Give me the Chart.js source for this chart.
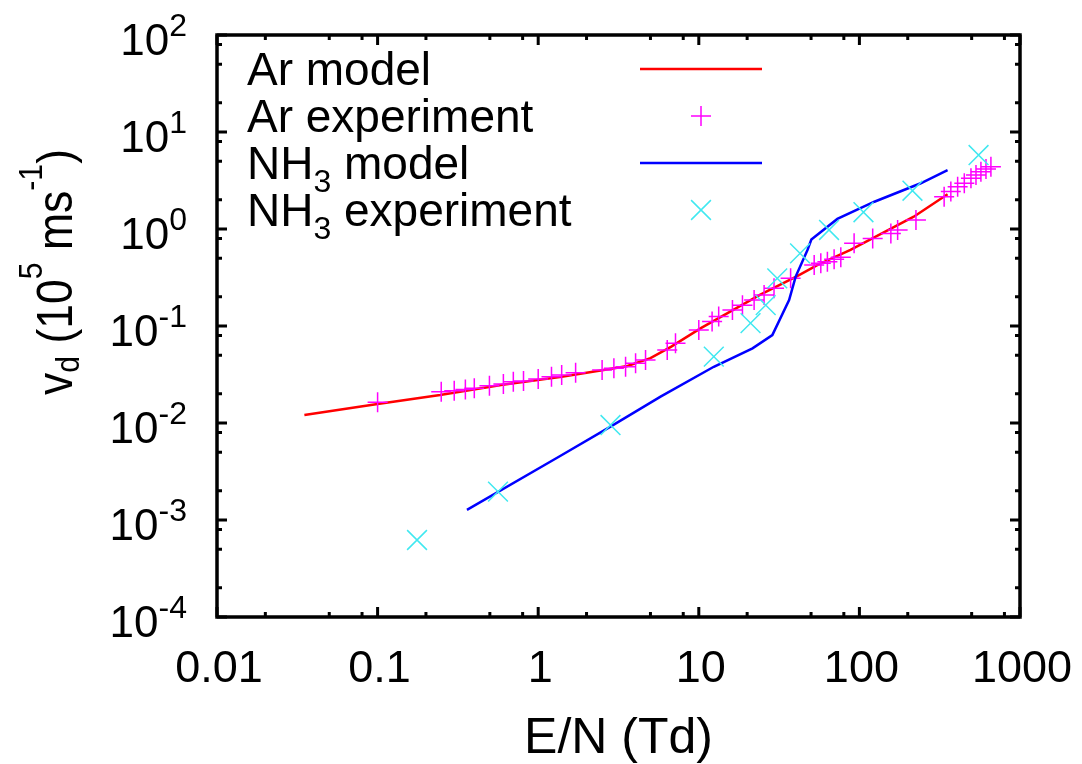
<!DOCTYPE html>
<html>
<head>
<meta charset="utf-8">
<script src="https://cdn.jsdelivr.net/npm/chart.js@4.4.1/dist/chart.umd.min.js"></script>
<style>
  html, body { margin: 0; padding: 0; background: #fff; }
  #wrap { width: 1082px; height: 764px; }
</style>
</head>
<body>
<div id="wrap"><canvas id="chart" width="1082" height="764"></canvas></div>
<script>
// Ar model curve (E/N in Td, v_d in 10^5 m/s)
const arModelEN = [0.035, 0.1, 0.245, 0.6, 1.4, 2.5, 3.6, 5.0, 6.7, 10.3, 15, 24, 41, 55, 88, 218, 354];
const arModelVd = [0.0121, 0.0157, 0.0194, 0.0248, 0.030, 0.035, 0.0387, 0.0467, 0.061, 0.095, 0.135, 0.209, 0.327, 0.426, 0.61, 1.34, 2.28];

// Ar experiment points
const arExpEN = [0.1, 0.249, 0.30, 0.352, 0.40, 0.497, 0.607, 0.70, 0.81, 1.0, 1.21, 1.40, 1.71, 2.50, 2.96, 3.50, 4.04, 4.66,
  6.36, 7.16, 10.0, 12.1, 13.3, 16.2, 18.7, 22.1, 25.5, 29.4, 37.3, 52.3, 57.5, 63.2, 69.6, 76.6, 92.7, 121, 157, 173, 225,
  337, 371, 409, 450, 495, 532, 571, 614, 659];
const arExpVd = [0.0164, 0.0210, 0.0215, 0.0222, 0.0228, 0.0242, 0.0252, 0.0267, 0.0271, 0.0284, 0.030, 0.0313, 0.033, 0.0352,
  0.0366, 0.0381, 0.0412, 0.0446, 0.0566, 0.0663, 0.091, 0.111, 0.125, 0.146, 0.164, 0.185, 0.209, 0.245, 0.31, 0.425, 0.443,
  0.46, 0.487, 0.51, 0.711, 0.80, 0.90, 0.977, 1.24, 2.15, 2.43, 2.73, 2.96, 3.33, 3.61, 3.90, 4.16, 4.39];

// NH3 model curve
const nh3ModelEN = [0.36, 1.37, 2.82, 5.78, 12.4, 21.6, 28.7, 36.5, 40.1, 47.5, 50.2, 72.9, 124, 241, 354];
const nh3ModelVd = [0.00127, 0.00457, 0.00916, 0.0187, 0.038, 0.0589, 0.0807, 0.185, 0.323, 0.608, 0.78, 1.27, 1.91, 2.96, 4.05];

// NH3 experiment points
const nh3ExpEN = [0.176, 0.562, 2.82, 12.4, 21.0, 26.1, 30.8, 42.7, 64.7, 106, 214, 552];
const nh3ExpVd = [0.000622, 0.00196, 0.00953, 0.0483, 0.107, 0.164, 0.31, 0.561, 0.977, 1.49, 2.48, 5.79];

// Axis ticks
const xTickValues = [0.01, 0.1, 1, 10, 100, 1000];
const xTickLabels = ['0.01', '0.1', '1', '10', '100', '1000'];
const yTickExponents = [2, 1, 0, -1, -2, -3, -4];
const minorMantissas = [2, 5, 8];

const FONT = '"Liberation Sans", Arial, sans-serif';

function toPoints(xs, ys) {
    return xs.map((v, i) => ({ x: v, y: ys[i] }));
}

// Draw a run of text pieces (main / super / sub) left to right
function drawRich(ctx, parts, x, y) {
    let cx = x;
    parts.forEach(p => {
        ctx.font = p.size + 'px ' + FONT;
        ctx.fillText(p.t, cx, y + (p.dy || 0));
        cx += ctx.measureText(p.t).width;
    });
    return cx - x;
}

function richWidth(ctx, parts) {
    let w = 0;
    parts.forEach(p => {
        ctx.font = p.size + 'px ' + FONT;
        w += ctx.measureText(p.t).width;
    });
    return w;
}

// Frame, inward ticks, labels, titles and key, drawn gnuplot style
const gnuplotDecor = {
    id: 'gnuplotDecor',
    afterDraw(chart) {
        const { ctx, chartArea: a, scales } = chart;
        const xs = scales.x, ys = scales.y;
        ctx.save();
        ctx.strokeStyle = '#000';
        ctx.fillStyle = '#000';
        ctx.lineCap = 'butt';

        // ticks
        ctx.lineWidth = 3;
        const tick = (px, len, vertical) => {
            ctx.beginPath();
            if (vertical) {
                ctx.moveTo(px, a.bottom); ctx.lineTo(px, a.bottom - len);
                ctx.moveTo(px, a.top); ctx.lineTo(px, a.top + len);
            } else {
                ctx.moveTo(a.left, px); ctx.lineTo(a.left + len, px);
                ctx.moveTo(a.right, px); ctx.lineTo(a.right - len, px);
            }
            ctx.stroke();
        };
        xTickValues.forEach((v, i) => {
            tick(xs.getPixelForValue(v), 10, true);
            if (i < xTickValues.length - 1) {
                minorMantissas.forEach(m => tick(xs.getPixelForValue(v * m), 5, true));
            }
        });
        yTickExponents.forEach((e, i) => {
            tick(ys.getPixelForValue(Math.pow(10, e)), 10, false);
            if (i > 0) {
                minorMantissas.forEach(m => tick(ys.getPixelForValue(Math.pow(10, e) * m), 5, false));
            }
        });

        // border
        ctx.lineWidth = 3.5;
        ctx.strokeRect(a.left, a.top, a.right - a.left, a.bottom - a.top);

        // x tick labels
        ctx.textBaseline = 'alphabetic';
        ctx.textAlign = 'center';
        ctx.font = '45px ' + FONT;
        xTickValues.forEach((v, i) => {
            ctx.fillText(xTickLabels[i], xs.getPixelForValue(v) + 2, a.bottom + 65);
        });

        // y tick labels 10^n
        ctx.textAlign = 'left';
        yTickExponents.forEach(e => {
            const parts = [{ t: '10', size: 44 }, { t: String(e), size: 32, dy: -19 }];
            const w = richWidth(ctx, parts);
            drawRich(ctx, parts, a.left - 30 - w, ys.getPixelForValue(Math.pow(10, e)) + 20);
        });

        // x title
        ctx.textAlign = 'center';
        ctx.font = '50px ' + FONT;
        ctx.fillText('E/N (Td)', (a.left + a.right) / 2, 753);

        // y title, rotated and slightly condensed
        ctx.save();
        ctx.translate(72, 395);
        ctx.rotate(-Math.PI / 2);
        ctx.scale(0.89, 1);
        ctx.textAlign = 'left';
        drawRich(ctx, [
            { t: 'v', size: 50 }, { t: 'd', size: 34, dy: 7 }, { t: ' (10', size: 50 },
            { t: '5', size: 34, dy: -30 }, { t: ' ms', size: 50 }, { t: '-1', size: 34, dy: -30 },
            { t: ')', size: 50 }
        ], 0, 0);
        ctx.restore();

        // key
        const rows = [69, 116, 163, 210];
        const ds = chart.data.datasets;
        const names = [
            [{ t: 'Ar model', size: 46 }],
            [{ t: 'Ar experiment', size: 46 }],
            [{ t: 'NH', size: 46 }, { t: '3', size: 32, dy: 13 }, { t: ' model', size: 46 }],
            [{ t: 'NH', size: 46 }, { t: '3', size: 32, dy: 13 }, { t: ' experiment', size: 46 }]
        ];
        ctx.textAlign = 'left';
        rows.forEach((ry, i) => {
            ctx.fillStyle = '#000';
            drawRich(ctx, names[i], 247, ry + 16);
            const d = ds[i];
            if (d.showLine) {
                ctx.strokeStyle = d.borderColor;
                ctx.lineWidth = d.borderWidth;
                ctx.beginPath(); ctx.moveTo(640, ry); ctx.lineTo(762, ry); ctx.stroke();
            } else {
                ctx.strokeStyle = d.pointBorderColor;
                ctx.fillStyle = d.pointBackgroundColor;
                ctx.lineWidth = d.pointBorderWidth;
                Chart.helpers.drawPoint(ctx, {
                    pointStyle: d.pointStyle, radius: d.pointRadius, borderWidth: d.pointBorderWidth, rotation: 0
                }, 701, ry);
            }
        });
        ctx.restore();
    }
};

const ctx = document.getElementById('chart').getContext('2d');
const chart = new Chart(ctx, {
    type: 'scatter',
    data: {
        datasets: [
            {
                label: 'Ar model',
                data: toPoints(arModelEN, arModelVd),
                showLine: true,
                borderColor: '#ff0000',
                borderWidth: 2.5,
                pointRadius: 0,
                order: 3
            },
            {
                label: 'Ar experiment',
                data: toPoints(arExpEN, arExpVd),
                showLine: false,
                pointStyle: 'cross',
                pointRadius: 10,
                pointBorderWidth: 1.5,
                pointBorderColor: '#ff00ff',
                pointBackgroundColor: '#ff00ff',
                order: 2
            },
            {
                label: 'NH3 model',
                data: toPoints(nh3ModelEN, nh3ModelVd),
                showLine: true,
                borderColor: '#0000ff',
                borderWidth: 2.5,
                pointRadius: 0,
                order: 1
            },
            {
                label: 'NH3 experiment',
                data: toPoints(nh3ExpEN, nh3ExpVd),
                showLine: false,
                pointStyle: 'crossRot',
                pointRadius: 14,
                pointBorderWidth: 1.5,
                pointBorderColor: '#40e8f0',
                pointBackgroundColor: '#40e8f0',
                order: 0
            }
        ]
    },
    options: {
        responsive: false,
        animation: false,
        layout: { padding: { left: 217, top: 35, right: 62, bottom: 147 } },
        plugins: {
            legend: { display: false },
            tooltip: { enabled: false }
        },
        scales: {
            x: { type: 'logarithmic', min: 0.01, max: 1000, display: false },
            y: { type: 'logarithmic', min: 0.0001, max: 100, display: false }
        }
    },
    plugins: [gnuplotDecor]
});
</script>
</body>
</html>
